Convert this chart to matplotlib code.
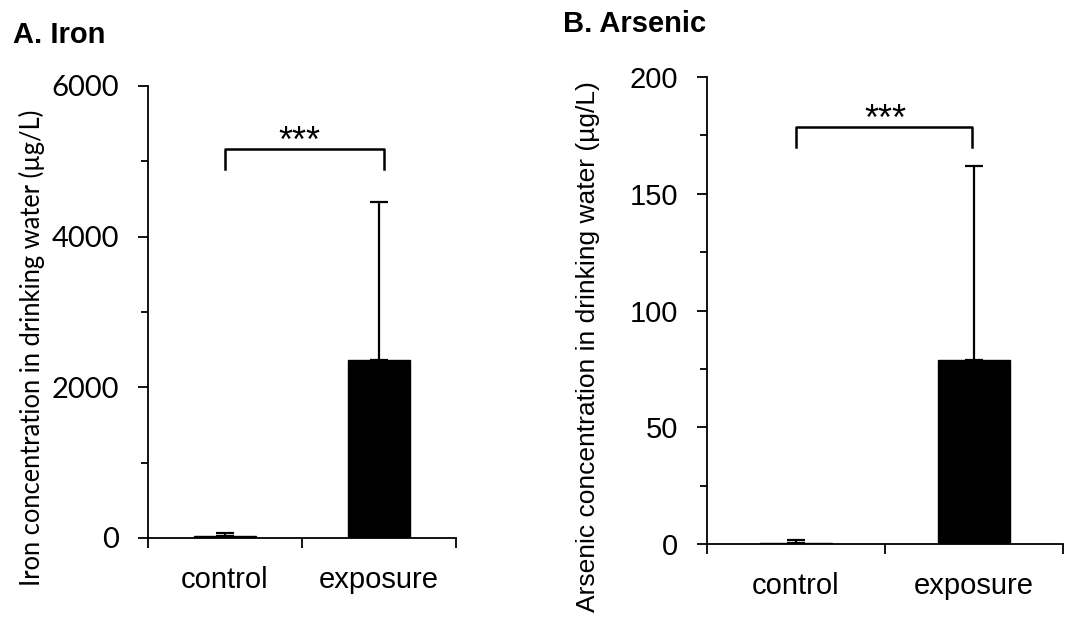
import matplotlib
matplotlib.use("Agg")
import matplotlib.pyplot as plt
from matplotlib.ticker import MultipleLocator

# data
groups = ["control", "exposure"]
iron_mean = [25, 2360]
iron_sd = [40, 2100]
arsenic_mean = [0.6, 79]
arsenic_sd = [1.0, 83]

plt.rcParams["font.family"] = ["Liberation Sans", "DejaVu Sans"]

fig = plt.figure(figsize=(10.7, 6.17), dpi=100)
ax_a = fig.add_axes([148 / 1070, 1 - 538 / 617, 308 / 1070, 452 / 617])
ax_b = fig.add_axes([707 / 1070, 1 - 544 / 617, 356 / 1070, 467 / 617])


def draw_panel(ax, means, sds, ymax, major, width, tick_font):
    x = [0.5, 1.5]
    ax.bar(x, means, width=width, color="black", edgecolor="black", linewidth=1,
           yerr=[[0, 0], sds], capsize=6.5,
           error_kw=dict(elinewidth=1.6, capthick=1.6, ecolor="black"))
    ax.set_xlim(0, 2)
    ax.set_ylim(0, ymax)
    ax.set_xticks([0, 1, 2])
    ax.set_xticklabels([])
    ax.set_xticks(x, minor=True)
    ax.set_xticklabels(groups, minor=True, fontsize=21)
    ax.tick_params(axis="x", which="minor", length=0, pad=20)
    ax.tick_params(axis="x", which="major", direction="out", length=7, width=1.3)
    ax.yaxis.set_major_locator(MultipleLocator(major))
    ax.yaxis.set_minor_locator(MultipleLocator(major / 2))
    ax.tick_params(axis="y", which="major", direction="out", length=7, width=1.3,
                   labelsize=21, pad=14)
    ax.tick_params(axis="y", which="minor", direction="out", length=5, width=1.3)
    for lab in ax.get_yticklabels():
        lab.set_family(tick_font)
    for side in ["top", "right"]:
        ax.spines[side].set_visible(False)
    for side in ["left", "bottom"]:
        ax.spines[side].set_linewidth(1.3)


draw_panel(ax_a, iron_mean, iron_sd, 6000, 2000, 0.4, "Lato")
draw_panel(ax_b, arsenic_mean, arsenic_sd, 200, 50, 0.4, "Liberation Sans")

# significance brackets
ax_a.plot([0.5, 0.5, 1.53, 1.53], [4900, 5160, 5160, 4900], color="black", lw=1.8)
ax_a.text(0.98, 5130, "***", ha="center", va="baseline", fontsize=26)
ax_b.plot([0.5, 0.5, 1.49, 1.49], [170, 178.6, 178.6, 170], color="black", lw=1.8)
ax_b.text(1.0, 177.5, "***", ha="center", va="baseline", fontsize=26)

# axis labels and panel titles
fig.text(32 / 1070, 1 - 348 / 617, "Iron concentration in drinking water (\u00b5g/L)",
         rotation=90, ha="center", va="center", fontsize=18.4, family="Lato")
fig.text(588 / 1070, 1 - 347 / 617, "Arsenic concentration in drinking water (\u00b5g/L)",
         rotation=90, ha="center", va="center", fontsize=19)
fig.text(13 / 1070, 1 - 43 / 617, "A. Iron", ha="left", va="baseline",
         fontsize=21, fontweight="bold")
fig.text(563 / 1070, 1 - 32 / 617, "B. Arsenic", ha="left", va="baseline",
         fontsize=21, fontweight="bold")

fig.savefig("out.png", dpi=100, facecolor="white")
